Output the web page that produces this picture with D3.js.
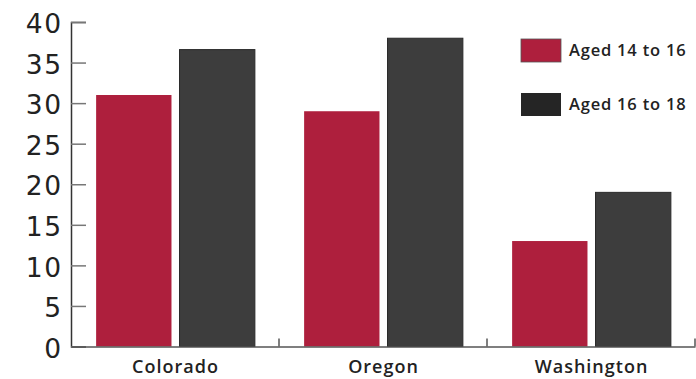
<!DOCTYPE html>
<html><head><meta charset="utf-8">
<script src="https://cdn.jsdelivr.net/npm/d3@7"></script>
<style>body{margin:0;background:#fff}svg{display:block}text{font-family:"Open Sans",sans-serif}</style>
</head><body><svg id="c" width="696" height="379"></svg>
<script>
const categories = ["Colorado", "Oregon", "Washington"];
const seriesNames = ["Aged 14 to 16", "Aged 16 to 18"];
const aged14to16 = [31, 29, 13];
const aged16to18 = [36.6, 38, 19];
const yTicks = [0, 5, 10, 15, 20, 25, 30, 35, 40];

const svg = d3.select("#c");
const mLeft = 71, mRight = 695, mTop = 22, mBottom = 346.5;
const barColors = ["#ae1f3d", "#3d3d3d"];
const legendColors = ["#ae1f3d", "#252525"];

const x = d3.scaleBand().domain(categories).range([mLeft, mRight]).paddingInner(0).paddingOuter(0);
const bw = x.bandwidth();
const xs = d3.scaleBand().domain([0, 1]).range([bw * 0.1208, bw * 0.884]).paddingInner(0.0964).paddingOuter(0);
const y = d3.scaleLinear().domain([0, 40]).range([mBottom, mTop]);

const data = categories.map((c, i) => ({c, v: [aged14to16[i], aged16to18[i]]}));

// bars
const g = svg.append("g");
data.forEach(d => {
  d.v.forEach((v, s) => {
    g.append("rect")
      .attr("x", x(d.c) + xs(s)).attr("y", y(v))
      .attr("width", xs.bandwidth()).attr("height", y(0) - y(v))
      .attr("fill", barColors[s])
      .attr("stroke", s === 1 ? "#2a2a2a" : "none").attr("stroke-width", 1);
  });
});

// y axis
const yAxis = d3.axisRight(y).tickValues(yTicks).tickSize(15).tickFormat("");
const ya = svg.append("g").attr("transform", `translate(${mLeft},0)`).call(yAxis);
ya.select(".domain").attr("stroke", "#333").attr("stroke-width", 1.5);
ya.selectAll(".tick line").attr("stroke", "#777").attr("stroke-width", 1.5);
const yls = 1.5;
svg.append("g").selectAll("text").data(yTicks).join("text")
  .attr("x", 61 + yls).attr("y", d => y(d)).attr("dy", "0.42em")
  .attr("text-anchor", "end").attr("font-size", 26.5).attr("fill", "#222")
  .style("font-family", "'DejaVu Sans', sans-serif")
  .attr("letter-spacing", yls)
  .text(d => d);

// x axis
const xa = svg.append("g").attr("transform", `translate(0,${mBottom})`)
  .call(d3.axisTop(x).tickSize(0).tickFormat(""));
xa.select(".domain").attr("stroke", "#555").attr("stroke-width", 1.5);
const sepX = categories.slice(1).map(c => x(c)).concat([mRight]);
svg.append("g").selectAll("line").data(sepX).join("line")
  .attr("x1", d => d).attr("x2", d => d)
  .attr("y1", mBottom).attr("y2", mBottom - 8)
  .attr("stroke", "#555").attr("stroke-width", 1.5);
const xls = 1;
svg.append("g").selectAll("text").data(categories).join("text")
  .attr("x", d => x(d) + x.bandwidth() / 2 + xls / 2).attr("y", 373)
  .attr("text-anchor", "middle").attr("font-size", 18).attr("font-weight", 600)
  .attr("letter-spacing", xls)
  .attr("fill", "#222").text(d => d);

// legend
const lg = svg.append("g");
const legendY = [39, 93];
seriesNames.forEach((n, i) => {
  lg.append("rect").attr("x", 521).attr("y", legendY[i]).attr("width", 40).attr("height", 23)
    .attr("fill", legendColors[i]).attr("stroke", i === 0 ? "#555" : "none").attr("stroke-width", 0.8);
  lg.append("text").attr("x", 569).attr("y", legendY[i] + 11.5).attr("dy", "0.36em")
    .attr("font-size", 16.5).attr("font-weight", 600).attr("letter-spacing", 0.8)
    .attr("fill", "#222").text(n);
});
</script></body></html>
